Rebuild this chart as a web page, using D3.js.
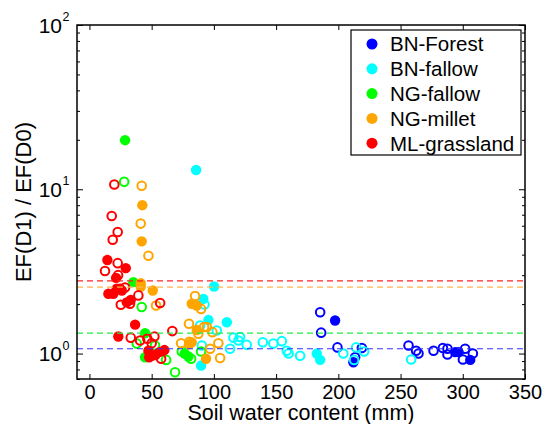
<!DOCTYPE html>
<html>
<head>
<meta charset="utf-8">
<script src="https://cdn.jsdelivr.net/npm/d3@7/dist/d3.min.js"></script>
<style>
    body { margin: 0; background: #fff; }
    #chart { width: 544px; height: 424px; }
    text { font-family: "Liberation Sans", Arial, Helvetica, sans-serif; }
</style>
</head>
<body>
<div id="chart"></div>
<script>
// Series names and colours (legend order)
const seriesNames = ['BN-Forest', 'BN-fallow', 'NG-fallow', 'NG-millet', 'ML-grassland'];
const seriesColors = ['#0000ff', '#00ffff', '#00ff00', '#ffa500', '#ff0000'];

// Points as [soil water content (mm), EF(D1)/EF(D0)] - filled and open markers
const bnForestFilled = [[197.4, 1.59], [212.1, 0.885], [293.9, 1.02], [296.6, 1.02], [306, 0.915]];
const bnForestOpen = [[185.4, 1.785], [186.2, 1.34], [199.3, 1.09], [218.9, 1.08], [213.5, 0.95],
    [256.4, 1.12], [262.5, 1.04], [264.4, 1.0], [276.5, 1.04], [284, 1.08], [287.7, 1.07],
    [287.7, 0.986], [301.9, 1.07], [308.1, 1.0], [300.1, 0.92]];

const bnFallowFilled = [[85.7, 13.1], [100.2, 2.56], [91.5, 2.15], [95.6, 1.60], [110.4, 1.55],
    [89.7, 0.845], [182.7, 1.0], [185.4, 0.915]];
const bnFallowOpen = [[92.4, 1.99], [88.9, 1.48], [102.3, 1.38], [90.3, 1.12], [113, 1.07],
    [115.7, 1.25], [119.7, 1.2], [121, 1.26], [126.4, 1.13], [139.3, 1.17], [147.8, 1.15],
    [154.6, 1.19], [158.6, 1.04], [160, 1.0], [169.3, 0.97], [204, 1.0], [214.3, 1.09],
    [220.7, 1.03], [212.7, 0.915], [258.5, 0.92]];

const ngFallowFilled = [[28.6, 19.9], [35.3, 2.72], [44.7, 1.33], [44.7, 0.95], [76.5, 1.0], [79.5, 0.96]];
const ngFallowOpen = [[27.9, 11.1], [42, 1.92], [38, 1.15], [52.7, 1.12], [61.6, 0.915],
    [68.8, 0.77], [74.2, 1.03], [81.7, 0.93], [89.7, 1.03]];

const ngMilletFilled = [[42.5, 8.0], [42, 4.82], [41.2, 2.68], [41.2, 2.55], [50.9, 2.42],
    [82.2, 2.01], [86.2, 1.96], [86.2, 1.39], [82.2, 1.17], [80, 1.14], [93.7, 0.93]];
const ngMilletOpen = [[42, 10.5], [41.2, 6.18], [47.4, 3.94], [53.5, 1.96], [84.9, 2.24],
    [89.7, 1.87], [80, 1.52], [92.1, 1.45], [94.3, 1.45], [98.8, 1.35], [87.5, 1.32],
    [73.6, 1.155], [103.6, 1.155], [80.3, 1.18], [97, 1.07], [105, 0.94]];

const mlGrasslandFilled = [[14.4, 3.71], [29.2, 3.31], [21.4, 2.89], [15.2, 2.31], [19.2, 2.31],
    [21.9, 2.48], [26, 2.42], [24.6, 2.48], [30, 2.05], [33.2, 2.12], [36.7, 1.50], [23.2, 1.27],
    [47.4, 1.04], [50, 0.97], [53, 0.98], [48, 0.95], [56.2, 1.02], [60.2, 1.05]];
const mlGrasslandOpen = [[20, 10.7], [17.9, 6.88], [22.7, 5.49], [18.7, 4.93], [22.7, 3.55],
    [12.5, 3.18], [23, 3.0], [28.6, 2.52], [25.2, 1.98], [32.6, 2.01], [39.3, 2.26], [56.8, 2.03],
    [33.2, 1.25], [40.7, 1.2], [52.2, 1.27], [46.5, 1.23], [50, 1.155], [57.6, 0.93], [66.6, 1.37]];

// Mean ratio per site (dashed reference lines)
const meanRatios = [1.07, 1.33, 2.54, 2.77];
const meanColors = ['#3333ff', '#22ee44', '#ffb84d', '#ff2222'];

// Axis ticks
const xTicks = [0, 50, 100, 150, 200, 250, 300, 350];
const yMajorTicks = [1, 10, 100];
const yMajorExp = ['0', '1', '2'];
const yMinorTicks = [0.7, 0.8, 0.9, 2, 3, 4, 5, 6, 7, 8, 9, 20, 30, 40, 50, 60, 70, 80, 90];

document.addEventListener('DOMContentLoaded', function() {
    const config = {
        width: 544,
        height: 424,
        left: 77,
        right: 525,
        top: 25,
        bottom: 379,
        filledR: 5.2,
        openR: 4.3,
        tickFont: 20,
        labelFont: 21.5,
        legendFont: 20.5
    };

    const svg = d3.select('#chart')
        .append('svg')
        .attr('width', config.width)
        .attr('height', config.height);

    const x = d3.scaleLinear().domain([-10, 350]).range([config.left, config.right]);
    const y = d3.scaleLog().domain([0.7, 100]).range([config.bottom, config.top]);

    const series = [
        { filled: bnForestFilled, open: bnForestOpen },
        { filled: bnFallowFilled, open: bnFallowOpen },
        { filled: ngFallowFilled, open: ngFallowOpen },
        { filled: ngMilletFilled, open: ngMilletOpen },
        { filled: mlGrasslandFilled, open: mlGrasslandOpen }
    ];

    const plot = svg.append('g');

    // Markers, series by series
    series.forEach(function(s, i) {
        const g = plot.append('g');
        g.selectAll('.filled')
            .data(s.filled)
            .enter()
            .append('circle')
            .attr('cx', d => x(d[0]))
            .attr('cy', d => y(d[1]))
            .attr('r', config.filledR)
            .attr('fill', seriesColors[i]);
        g.selectAll('.open')
            .data(s.open)
            .enter()
            .append('circle')
            .attr('cx', d => x(d[0]))
            .attr('cy', d => y(d[1]))
            .attr('r', config.openR)
            .attr('fill', 'none')
            .attr('stroke', seriesColors[i])
            .attr('stroke-width', 2);
    });

    // Dashed mean lines
    plot.selectAll('.mean')
        .data(meanRatios)
        .enter()
        .append('line')
        .attr('x1', config.left)
        .attr('x2', config.right)
        .attr('y1', d => y(d))
        .attr('y2', d => y(d))
        .attr('stroke', (d, i) => meanColors[i])
        .attr('stroke-width', 1.2)
        .attr('stroke-dasharray', '6,4');

    // Axes with inward ticks (MATLAB style box)
    const xAxis = svg.append('g')
        .attr('transform', `translate(0,${config.bottom})`)
        .call(d3.axisBottom(x).tickValues(xTicks).tickSizeInner(-5).tickSizeOuter(0).tickPadding(6));
    xAxis.selectAll('text')
        .attr('font-size', config.tickFont)
        .attr('fill', '#000');
    xAxis.attr('font-family', null);

    svg.append('g')
        .attr('transform', `translate(0,${config.top})`)
        .call(d3.axisTop(x).tickValues(xTicks).tickSizeInner(-5).tickSizeOuter(0).tickFormat(''));

    const yLeft = d3.axisLeft(y).tickValues(yMajorTicks).tickSizeInner(-6).tickSizeOuter(0).tickFormat('');
    const yRight = d3.axisRight(y).tickValues(yMajorTicks).tickSizeInner(-6).tickSizeOuter(0).tickFormat('');
    svg.append('g').attr('transform', `translate(${config.left},0)`).call(yLeft);
    svg.append('g').attr('transform', `translate(${config.right},0)`).call(yRight);
    svg.append('g').attr('transform', `translate(${config.left},0)`)
        .call(d3.axisLeft(y).tickValues(yMinorTicks).tickSizeInner(-3).tickSizeOuter(0).tickFormat(''));
    svg.append('g').attr('transform', `translate(${config.right},0)`)
        .call(d3.axisRight(y).tickValues(yMinorTicks).tickSizeInner(-3).tickSizeOuter(0).tickFormat(''));

    // Box outline
    svg.append('rect')
        .attr('x', config.left)
        .attr('y', config.top)
        .attr('width', config.right - config.left)
        .attr('height', config.bottom - config.top)
        .attr('fill', 'none')
        .attr('stroke', '#000')
        .attr('stroke-width', 1.5);
    svg.selectAll('.domain').remove();
    svg.selectAll('.tick line').attr('stroke', '#000').attr('stroke-width', 1);

    // Power-of-ten labels on the log axis
    const yLabels = svg.append('g');
    yMajorTicks.forEach(function(v, i) {
        yLabels.append('text')
            .attr('x', 62)
            .attr('y', y(v))
            .attr('dy', '0.36em')
            .attr('text-anchor', 'end')
            .attr('font-size', 21)
            .text('10');
        yLabels.append('text')
            .attr('x', 62.5)
            .attr('y', y(v) - 4)
            .attr('font-size', 12.5)
            .text(yMajorExp[i]);
    });

    // Axis titles
    svg.append('text')
        .attr('x', (config.left + config.right) / 2)
        .attr('y', 420)
        .attr('text-anchor', 'middle')
        .attr('font-size', config.labelFont)
        .text('Soil water content (mm)');

    svg.append('text')
        .attr('transform', `translate(31,${(config.top + config.bottom) / 2}) rotate(-90)`)
        .attr('text-anchor', 'middle')
        .attr('font-size', 22)
        .text('EF(D1) / EF(D0)');

    // Legend
    const legend = svg.append('g');
    legend.append('rect')
        .attr('x', 351)
        .attr('y', 30)
        .attr('width', 170)
        .attr('height', 125)
        .attr('fill', '#fff')
        .attr('stroke', '#000')
        .attr('stroke-width', 1.2);
    const rows = legend.selectAll('.row')
        .data(seriesNames)
        .enter()
        .append('g')
        .attr('transform', (d, i) => `translate(0,${44 + i * 24.8})`);
    rows.append('circle')
        .attr('cx', 372)
        .attr('cy', 0)
        .attr('r', 5.5)
        .attr('fill', (d, i) => seriesColors[i]);
    rows.append('text')
        .attr('x', 390)
        .attr('dy', '0.36em')
        .attr('font-size', config.legendFont)
        .text(d => d);
});
</script>
</body>
</html>
